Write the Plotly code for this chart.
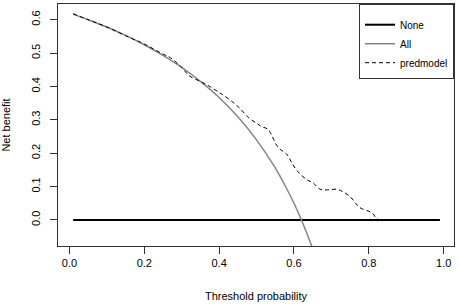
import plotly.graph_objects as go

# Data
threshold_none = [0.01, 0.99]
nb_none = [0.0, 0.0]

threshold_all = [0.01, 0.05, 0.10, 0.15, 0.20, 0.25, 0.30, 0.35, 0.40, 0.45,
                 0.50, 0.55, 0.58, 0.60, 0.62, 0.64, 0.66]
nb_all = [0.616, 0.600, 0.578, 0.553, 0.525, 0.493, 0.457, 0.415, 0.367, 0.309,
          0.240, 0.156, 0.095, 0.050, 0.000, -0.056, -0.116]

threshold_model = [0.01, 0.05, 0.10, 0.15, 0.20, 0.25, 0.27, 0.30, 0.32, 0.35,
                   0.375, 0.40, 0.41, 0.44, 0.455, 0.48, 0.50, 0.513, 0.53, 0.54,
                   0.553, 0.565, 0.58, 0.595, 0.61, 0.635, 0.65, 0.67, 0.69, 0.715,
                   0.73, 0.75, 0.765, 0.776, 0.80, 0.81, 0.822, 0.834]
nb_model = [0.618, 0.600, 0.578, 0.552, 0.527, 0.497, 0.486, 0.457, 0.432, 0.415,
            0.400, 0.382, 0.375, 0.350, 0.335, 0.305, 0.290, 0.280, 0.272, 0.255,
            0.225, 0.210, 0.198, 0.170, 0.145, 0.120, 0.112, 0.092, 0.090, 0.092,
            0.085, 0.070, 0.050, 0.037, 0.026, 0.020, 0.003, 0.000]

x_ticks = [0.0, 0.2, 0.4, 0.6, 0.8, 1.0]
y_ticks = [0.0, 0.1, 0.2, 0.3, 0.4, 0.5, 0.6]

font_family = "Liberation Sans, Arial, sans-serif"

fig = go.Figure()
fig.add_trace(go.Scatter(x=threshold_none, y=nb_none, mode="lines", name="None",
                         line=dict(color="black", width=2)))
fig.add_trace(go.Scatter(x=threshold_all, y=nb_all, mode="lines", name="All",
                         line=dict(color="#858585", width=1.5, shape="spline")))
fig.add_trace(go.Scatter(x=threshold_model, y=nb_model, mode="lines", name="predmodel",
                         line=dict(color="black", width=1, dash="4px,3px", shape="spline")))

fig.update_layout(
    width=459, height=304,
    margin=dict(l=58, r=5, t=4, b=58, autoexpand=False),
    paper_bgcolor="white", plot_bgcolor="white",
    font=dict(family=font_family, size=11, color="black"),
    showlegend=True,
    legend=dict(x=1, y=1, xanchor="right", yanchor="top",
                bordercolor="#333", borderwidth=1, bgcolor="white",
                font=dict(size=10), itemwidth=30, tracegroupgap=0,
                title=dict(text=" ", font=dict(size=4))),
    xaxis=dict(range=[-0.0305, 1.0276], tickvals=x_ticks, tickformat=".1f",
               showgrid=False, zeroline=False, showline=True, linecolor="#333",
               linewidth=1, mirror=True, ticks="outside", ticklen=7,
               tickcolor="#333",
               title=dict(text="Threshold probability", standoff=24,
                          font=dict(size=11))),
    yaxis=dict(range=[-0.078, 0.647], tickvals=y_ticks, tickformat=".1f",
               tickangle=-90, ticklabelstandoff=6,
               showgrid=False, zeroline=False, showline=True, linecolor="#333",
               linewidth=1, mirror=True, ticks="outside", ticklen=7,
               tickcolor="#333",
               title=dict(text="Net benefit", standoff=16, font=dict(size=11))),
)

fig.write_html("out.html", config={"displayModeBar": False},
               post_script="document.body.style.margin='0';document.body.style.padding='0';")
